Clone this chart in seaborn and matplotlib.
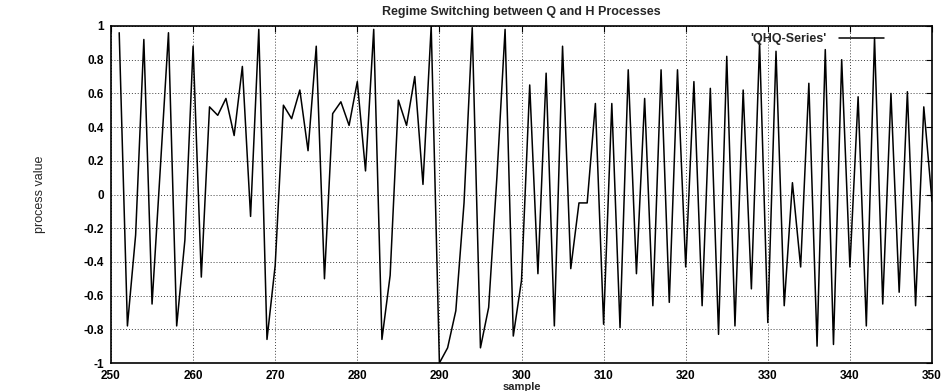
import matplotlib
matplotlib.use("Agg")
import matplotlib.pyplot as plt
import seaborn as sns
import pandas as pd

samples = list(range(251, 351))
values = [
    0.96, -0.78, -0.24, 0.92, -0.65, 0.15, 0.96, -0.78, -0.27, 0.88,   # 251-260
    -0.49, 0.52, 0.47, 0.57, 0.35, 0.76, -0.13, 0.98, -0.86, -0.42,    # 261-270
    0.53, 0.45, 0.62, 0.26, 0.88, -0.50, 0.48, 0.55, 0.41, 0.67,       # 271-280
    0.14, 0.98, -0.86, -0.48, 0.56, 0.41, 0.70, 0.06, 1.00, -1.00,     # 281-290
    -0.91, -0.69, -0.05, 0.99, -0.91, -0.67, 0.10, 0.98, -0.84, -0.51, # 291-300
    0.65, -0.47, 0.72, -0.78, 0.88, -0.44, -0.05, -0.05, 0.54, -0.77,  # 301-310
    0.54, -0.79, 0.74, -0.47, 0.57, -0.66, 0.74, -0.64, 0.74, -0.43,   # 311-320
    0.67, -0.66, 0.63, -0.83, 0.82, -0.78, 0.62, -0.56, 0.90, -0.76,   # 321-330
    0.85, -0.66, 0.07, -0.43, 0.66, -0.90, 0.86, -0.89, 0.80, -0.43,   # 331-340
    0.58, -0.78, 0.93, -0.65, 0.60, -0.58, 0.61, -0.66, 0.52, -0.04,   # 341-350
]
series_name = "'QHQ-Series'"
x_ticks = list(range(250, 351, 10))
y_ticks = [-1, -0.8, -0.6, -0.4, -0.2, 0, 0.2, 0.4, 0.6, 0.8, 1]
y_tick_labels = ["-1", "-0.8", "-0.6", "-0.4", "-0.2", "0", "0.2", "0.4", "0.6", "0.8", "1"]
title = "Regime Switching between Q and H Processes"
x_label = "sample"
y_label = "process value"

sns.set_style("white")
plt.rcParams["font.family"] = ["Liberation Sans", "DejaVu Sans"]
plt.rcParams["axes.unicode_minus"] = False

df = pd.DataFrame({"sample": samples, "value": values, "series": series_name})

fig = plt.figure(figsize=(9.46, 3.91), dpi=100)
ax_l, ax_r, ax_t, ax_b = 111, 932, 26, 363
ax = fig.add_axes([ax_l / 946, 1 - ax_b / 391, (ax_r - ax_l) / 946, (ax_b - ax_t) / 391])

sns.lineplot(data=df, x="sample", y="value", hue="series", palette=["black"],
             linewidth=1.1, ax=ax)

ax.set_xlim(250, 350)
ax.set_ylim(-1, 1)
ax.set_xticks(x_ticks)
ax.set_xticklabels([str(t) for t in x_ticks], fontsize=8.5, fontweight="bold")
ax.set_yticks(y_ticks)
ax.set_yticklabels(y_tick_labels, fontsize=8.5, fontweight="bold")
ax.tick_params(direction="in", length=4, width=0.8, top=True, right=True,
               colors="black")
ax.tick_params(axis="x", pad=5)
ax.tick_params(axis="y", pad=5)
ax.grid(True, linestyle=(0, (1, 2)), linewidth=0.7, color="black", alpha=0.75)

for s in ax.spines.values():
    s.set_color("black")
    s.set_linewidth(1.2)

ax.set_title(title, fontsize=9, fontweight="bold", pad=8)
ax.set_xlabel(x_label, fontsize=8, fontweight="bold", labelpad=0)
ax.set_ylabel(y_label, fontsize=9, labelpad=27)

leg = ax.legend(loc="upper right", frameon=False, markerfirst=False,
                fontsize=9, handlelength=3.6, handletextpad=1.0,
                borderaxespad=0, borderpad=0,
                bbox_to_anchor=((884 - ax_l) / (ax_r - ax_l), (ax_b - 33) / (ax_b - ax_t)))
for t in leg.get_texts():
    t.set_fontweight("bold")
for h in leg.get_lines():
    h.set_linewidth(1.1)

fig.savefig("out.png", dpi=100)
